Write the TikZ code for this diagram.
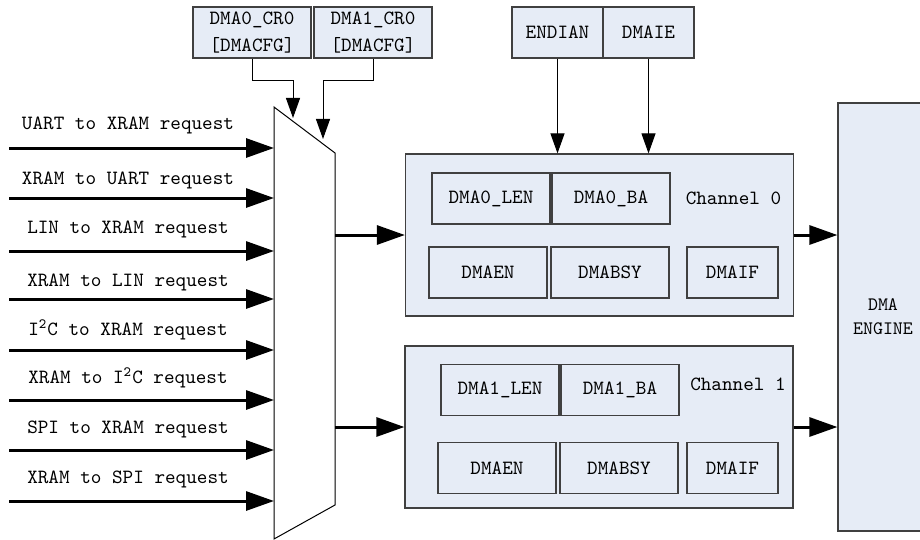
\documentclass[tikz,border=0pt]{standalone}
\usetikzlibrary{arrows.meta}
\definecolor{regfill}{HTML}{E6ECF6}
\definecolor{regline}{HTML}{404040}
\newcommand\dmafont{\fontsize{10.1}{13.5}\selectfont\ttfamily}

\begin{document}
\begin{tikzpicture}[x=0.5pt, y=-0.5pt,
    reg/.style={draw=regline, fill=regfill, line width=0.6pt, minimum height=25.5pt, inner sep=0pt, font=\dmafont, align=center},
    chan/.style={draw=regline, fill=regfill, line width=0.6pt, minimum width=194pt, minimum height=81pt},
    lbl/.style={font=\dmafont, inner sep=0pt},
    sig/.style={-{Triangle[length=10pt,width=7pt]}, line width=0.5pt},
    bus/.style={-{Triangle[length=14pt,width=9.5pt]}, line width=1.5pt}]
    \useasboundingbox (0,0) rectangle (920,540);
    \clip (0,0) rectangle (920,540);

    % REGISTRES DE CONFIGURACIO
    \node[reg, minimum width=59pt] (cr0) at (252,32.5) {DMA0\_CR0\\{}[DMACFG]};
    \node[reg, minimum width=59pt] (cr1) at (373,32.5) {DMA1\_CR0\\{}[DMACFG]};
    \node[reg, minimum width=45.5pt] (endian) at (557.5,32.5) {ENDIAN};
    \node[reg, minimum width=45.5pt] (dmaie) at (648.5,32.5) {DMAIE};

    % MULTIPLEXOR
    \draw[line width=0.5pt, fill=white] (274,107) -- (335,153) -- (335,505) -- (274,539) -- cycle;
    \coordinate (sel0) at (293,118);
    \coordinate (sel1) at (323,139);
    \draw[sig] (cr0.south) -- ++(0,22) -| (sel0);
    \draw[sig] (cr1.south) -- ++(0,22) -| (sel1);

    % PETICIONS D'ENTRADA
    \foreach \i/\y/\ly/\t in {1/148/125/UART to XRAM request, 2/198/180/XRAM to UART request,
        3/251/229/LIN to XRAM request, 4/299/282/XRAM to LIN request,
        5/350/330/I\textsuperscript{2}C to XRAM request, 6/400/378/XRAM to I\textsuperscript{2}C request,
        7/450/429/SPI to XRAM request, 8/501/479/XRAM to SPI request} {
        \coordinate (in\i) at (9,\y);
        \coordinate (mx\i) at (274,\y);
        \draw[bus] (in\i) -- (mx\i);
        \node[lbl] (req\i) at (128,\ly) {\t};
    }

    % CANAL 0
    \node[chan] (ch0) at (599.5,235) {};
    \node[reg, minimum width=59pt] (len0) at (491,198.5) {DMA0\_LEN};
    \node[reg, minimum width=59pt] (ba0) at (611,198.5) {DMA0\_BA};
    \node[lbl] (ch0lbl) at (733.5,198) {Channel 0};
    \node[reg, minimum width=59pt] (en0) at (488,272.5) {DMAEN};
    \node[reg, minimum width=59pt] (bsy0) at (610,272.5) {DMABSY};
    \node[reg, minimum width=45.5pt] (if0) at (732.5,272.5) {DMAIF};

    % CANAL 1
    \node[chan] (ch1) at (599,427) {};
    \node[reg, minimum width=59pt] (len1) at (500,390) {DMA1\_LEN};
    \node[reg, minimum width=59pt] (ba1) at (620,390) {DMA1\_BA};
    \node[lbl] (ch1lbl) at (738,384) {Channel 1};
    \node[reg, minimum width=59pt] (en1) at (497,468) {DMAEN};
    \node[reg, minimum width=59pt] (bsy1) at (619,468) {DMABSY};
    \node[reg, minimum width=45.5pt] (if1) at (732.5,468) {DMAIF};

    % MOTOR DMA
    \node[reg, minimum width=45pt, minimum height=214pt, font=\fontsize{9.5}{12}\selectfont\ttfamily] (eng) at (883,317) {DMA\\ENGINE};

    % CONNEXIONS
    \draw[sig] (endian.south) -- (endian.south |- ch0.north);
    \draw[sig] (dmaie.south) -- (dmaie.south |- ch0.north);
    \coordinate (mo0) at (335,235);
    \coordinate (mo1) at (335,427);
    \draw[bus] (mo0) -- (ch0.west);
    \draw[bus] (mo1) -- (ch1.west);
    \draw[bus] (ch0.east) -- (ch0.east -| eng.west);
    \draw[bus] (ch1.east) -- (ch1.east -| eng.west);

\end{tikzpicture}
\end{document}
